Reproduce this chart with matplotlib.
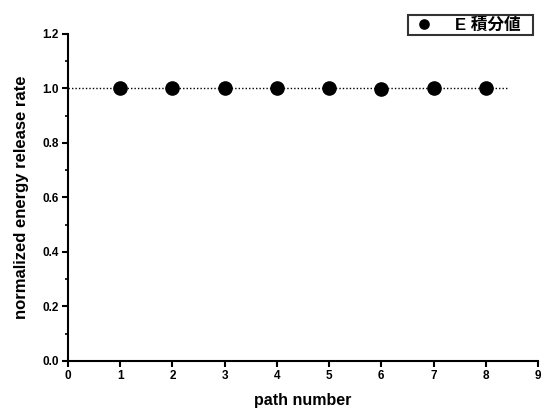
import matplotlib
matplotlib.use("Agg")
import matplotlib.pyplot as plt
from matplotlib.ticker import MultipleLocator

plt.rcParams['font.family'] = ['Liberation Sans', 'Noto Sans CJK JP', 'DejaVu Sans']

path_number = [1, 2, 3, 4, 5, 6, 7, 8]
energy_rate = [1.000, 1.000, 1.000, 1.003, 1.002, 0.998, 1.001, 1.000]
ref_x = [0, 8.45]
ref_y = [1.0, 1.0]
x_ticks = [0, 1, 2, 3, 4, 5, 6, 7, 8, 9]
y_ticks = [0.0, 0.2, 0.4, 0.6, 0.8, 1.0, 1.2]
y_labels = ['0.0', '0.2', '0.4', '0.6', '0.8', '1.0', '1.2']
series_label = 'E 積分値'

fig = plt.figure(figsize=(5.42, 4.11), dpi=100)
ax = fig.add_axes([0.1255, 0.1217, 0.867, 0.7956])

ax.plot(ref_x, ref_y, linestyle=(0, (1, 1.5)), color='black', linewidth=1.0, zorder=1)
pts, = ax.plot(path_number, energy_rate, 'o', color='black', markersize=9.5,
               linestyle='none', label=series_label, zorder=2)

ax.set_xlim(0, 9)
ax.set_ylim(0, 1.2)
ax.set_xticks(x_ticks)
ax.set_yticks(y_ticks)
ax.set_yticklabels(y_labels)
ax.yaxis.set_minor_locator(MultipleLocator(0.1))

for s in ['top', 'right']:
    ax.spines[s].set_visible(False)
for s in ['left', 'bottom']:
    ax.spines[s].set_linewidth(1.5)

ax.tick_params(axis='both', which='major', direction='out', length=4.5, width=1.5,
               labelsize=8.5, pad=2)
ax.tick_params(axis='y', which='minor', direction='out', length=2.5, width=1.2)
for lbl in ax.get_xticklabels() + ax.get_yticklabels():
    lbl.set_fontweight('bold')

ax.set_xlabel('path number', fontsize=11.5, fontweight='bold', labelpad=8)
ax.set_ylabel('normalized energy release rate', fontsize=12, fontweight='bold', labelpad=10)

leg = ax.legend([pts], [series_label + '  '], loc='upper right',
                bbox_to_anchor=(0.989, 1.058), frameon=True,
                fancybox=False, edgecolor='black', prop={'weight': 'bold', 'size': 12},
                handletextpad=1.1, borderpad=0.15, handlelength=1.6, markerscale=0.7,
                borderaxespad=0)
leg.get_frame().set_linewidth(1.5)

fig.savefig('out.png', dpi=100)
